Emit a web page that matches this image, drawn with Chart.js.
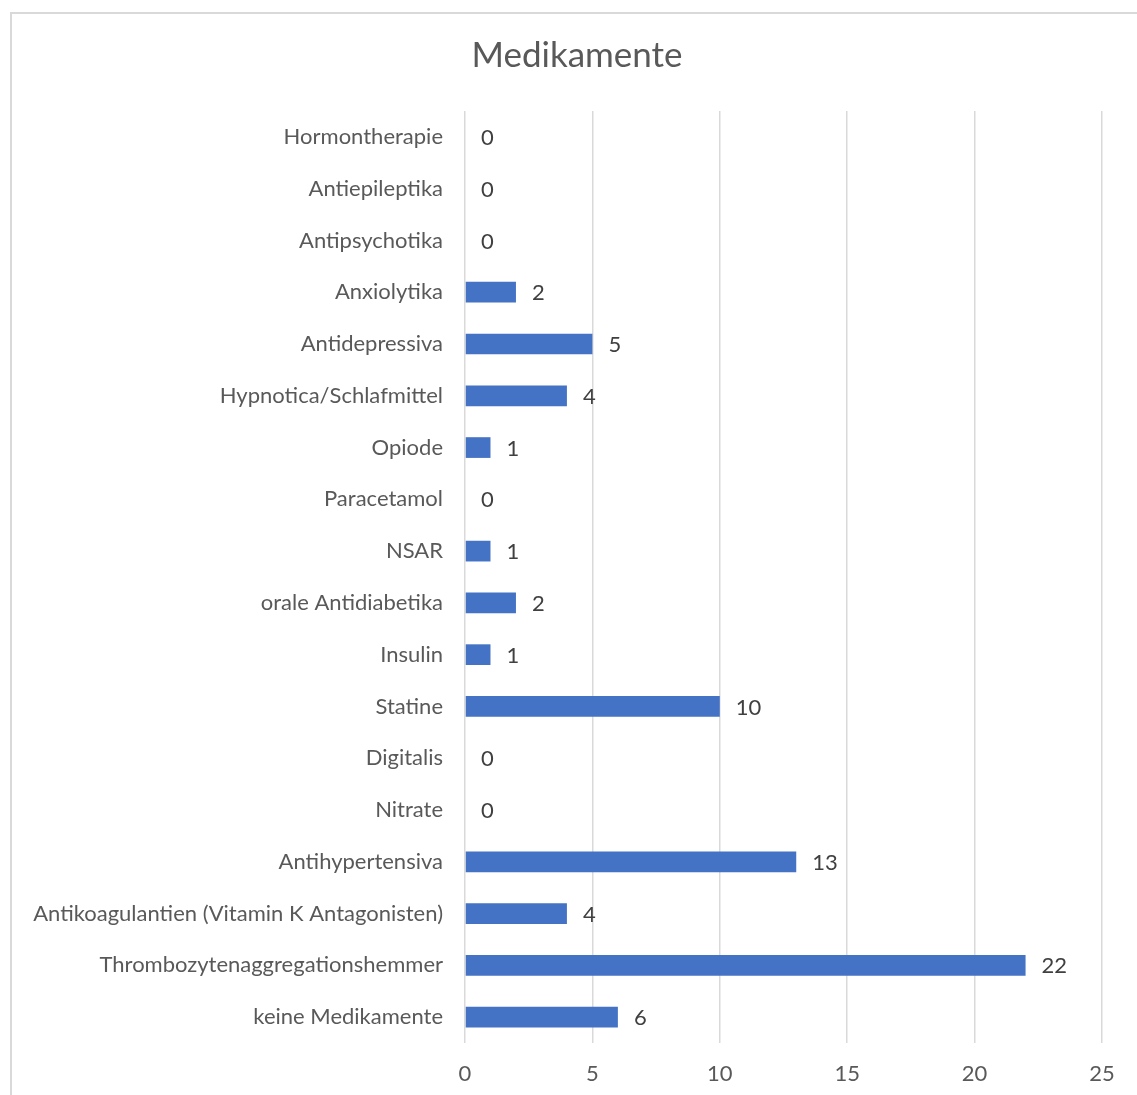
<!DOCTYPE html>
<html lang="de">

<head>
    <meta charset="UTF-8">
    <script src="https://cdn.jsdelivr.net/npm/chart.js@4.4.1/dist/chart.umd.min.js"></script>
    <title>Medikamente</title>
    <style>
        body { margin: 0; background: #fff; }
        .box_chart { position: relative; width: 1137px; height: 1095px; }
    </style>
</head>

<body>
    <div class="box_chart">
        <canvas id="chartMedikamente"></canvas>
    </div>
</body>

</html>
<script>
    // Kategorien von oben nach unten
    var kategorien = [
        'Hormontherapie', 'Antiepileptika', 'Antipsychotika', 'Anxiolytika',
        'Antidepressiva', 'Hypnotica/Schlafmittel', 'Opiode', 'Paracetamol',
        'NSAR', 'orale Antidiabetika', 'Insulin', 'Statine', 'Digitalis',
        'Nitrate', 'Antihypertensiva', 'Antikoagulantien (Vitamin K Antagonisten)',
        'Thrombozytenaggregationshemmer', 'keine Medikamente'
    ];
    var anzahl = [0, 0, 0, 2, 5, 4, 1, 0, 1, 2, 1, 10, 0, 0, 13, 4, 22, 6];
    var xTicks = [0, 5, 10, 15, 20, 25];
    var titel = 'Medikamente';

    var schrift = 'Lato, "Open Sans", sans-serif';

    /* Rahmen links und oben, Titel */
    var rahmen = {
        id: 'rahmen',
        beforeDraw: function (chart) {
            var c = chart.ctx;
            c.save();
            c.strokeStyle = '#d9d9d9';
            c.lineWidth = 2;
            c.beginPath();
            c.moveTo(11, chart.height);
            c.lineTo(11, 13);
            c.lineTo(chart.width, 13);
            c.stroke();

            c.font = '35px ' + schrift;
            c.fillStyle = '#595959';
            c.textAlign = 'center';
            c.textBaseline = 'middle';
            c.fillText(titel, 577, 56);
            c.restore();
        }
    };

    /* Werte rechts neben den Balken */
    var werte = {
        id: 'werte',
        afterDatasetsDraw: function (chart) {
            var c = chart.ctx;
            var meta = chart.getDatasetMeta(0);
            c.save();
            c.font = '22px ' + schrift;
            c.fillStyle = '#404040';
            c.textAlign = 'left';
            c.textBaseline = 'middle';
            meta.data.forEach(function (bar, i) {
                c.fillText(String(anzahl[i]), bar.x + 16, bar.y + 1);
            });
            c.restore();
        }
    };

    var ctx = chartMedikamente.getContext('2d');
    var myChart = new Chart(ctx, {
        type: 'bar',
        data: {
            labels: kategorien,
            datasets: [{
                label: 'Anzahl',
                data: anzahl,
                backgroundColor: '#4472c4',
                borderWidth: 0,
                categoryPercentage: 1,
                barPercentage: 0.4
            }]
        },
        options: {
            indexAxis: 'y',
            responsive: true,
            maintainAspectRatio: false,
            animation: false,
            layout: {
                padding: { left: 0, right: 35, top: 111, bottom: 0 }
            },
            plugins: {
                legend: { display: false },
                tooltip: { enabled: false },
                title: { display: false }
            },
            scales: {
                x: {
                    min: 0,
                    max: 25,
                    afterBuildTicks: function (scale) {
                        scale.ticks = xTicks.map(function (v) { return { value: v }; });
                    },
                    afterFit: function (scale) { scale.height = 52; },
                    grid: { color: '#d9d9d9', lineWidth: 1.5, drawTicks: false },
                    border: { display: false },
                    ticks: {
                        color: '#595959',
                        padding: 18,
                        font: { family: schrift, size: 22 }
                    }
                },
                y: {
                    afterFit: function (scale) { scale.width = 465; },
                    grid: { display: false, drawTicks: false },
                    border: { display: false },
                    ticks: {
                        color: '#595959',
                        padding: 22,
                        autoSkip: false,
                        font: { family: schrift, size: 22 }
                    }
                }
            }
        },
        plugins: [rahmen, werte]
    });
</script>
